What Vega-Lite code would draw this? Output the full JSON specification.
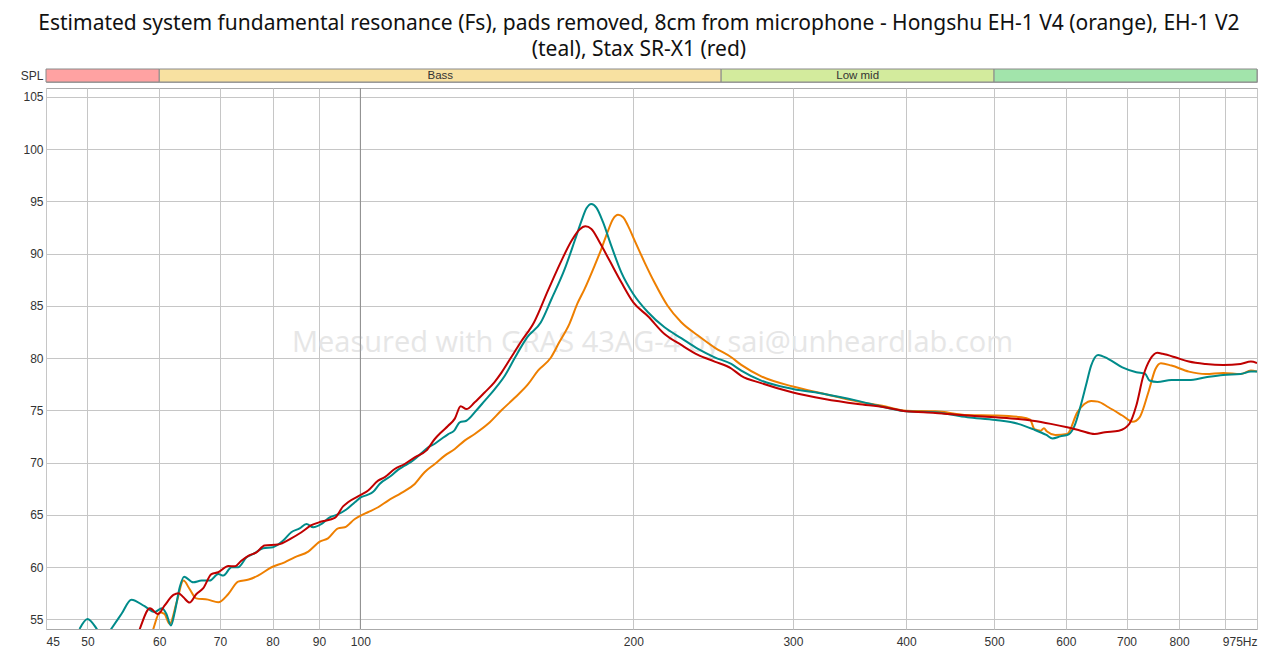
{
  "$schema": "https://vega.github.io/schema/vega-lite/v6.json",
  "padding": {"left": 19, "top": 13, "right": 0, "bottom": 3},
  "background": "white",
  "title": {
    "text": ["Estimated system fundamental resonance (Fs), pads removed, 8cm from microphone - Hongshu EH-1 V4 (orange), EH-1 V2", "(teal), Stax SR-X1 (red)"],
    "anchor": "middle",
    "fontSize": 21,
    "font": "Noto Sans",
    "fontWeight": "normal",
    "color": "#111",
    "lineHeight": 26,
    "offset": 8
  },
  "datasets": {
    "bands": [
      {"lab": "SPL", "b0": 45, "b1": 60, "band": "Sub bass", "name": "", "mid": 52},
      {"lab": "SPL", "b0": 60, "b1": 250, "band": "Bass", "name": "Bass", "mid": 122.5},
      {"lab": "SPL", "b0": 250, "b1": 500, "band": "Low mid", "name": "Low mid", "mid": 353.6},
      {"lab": "SPL", "b0": 500, "b1": 975, "band": "Upper mid", "name": "", "mid": 700}
    ],
    "curves": [
      {"s": "orange", "f": 58.6, "db": 53.0},
      {"s": "orange", "f": 59.1, "db": 54.07},
      {"s": "orange", "f": 60.1, "db": 55.67},
      {"s": "orange", "f": 60.8, "db": 55.5},
      {"s": "orange", "f": 61.6, "db": 54.55},
      {"s": "orange", "f": 62.7, "db": 56.6},
      {"s": "orange", "f": 63.8, "db": 58.7},
      {"s": "orange", "f": 64.8, "db": 57.9},
      {"s": "orange", "f": 65.9, "db": 57.0},
      {"s": "orange", "f": 67.9, "db": 56.88},
      {"s": "orange", "f": 69.7, "db": 56.63},
      {"s": "orange", "f": 71.5, "db": 57.42},
      {"s": "orange", "f": 73.3, "db": 58.6},
      {"s": "orange", "f": 75.3, "db": 58.8},
      {"s": "orange", "f": 77.1, "db": 59.18},
      {"s": "orange", "f": 79.8, "db": 59.98},
      {"s": "orange", "f": 82.5, "db": 60.45},
      {"s": "orange", "f": 84.6, "db": 60.93},
      {"s": "orange", "f": 87.6, "db": 61.48},
      {"s": "orange", "f": 90.2, "db": 62.43},
      {"s": "orange", "f": 92.1, "db": 62.75},
      {"s": "orange", "f": 94.5, "db": 63.7},
      {"s": "orange", "f": 96.1, "db": 63.8},
      {"s": "orange", "f": 98.6, "db": 64.6},
      {"s": "orange", "f": 100.1, "db": 64.92},
      {"s": "orange", "f": 101.9, "db": 65.24},
      {"s": "orange", "f": 104.6, "db": 65.72},
      {"s": "orange", "f": 107.3, "db": 66.36},
      {"s": "orange", "f": 111.0, "db": 67.09},
      {"s": "orange", "f": 114.8, "db": 67.95},
      {"s": "orange", "f": 117.7, "db": 69.07},
      {"s": "orange", "f": 120.8, "db": 69.86},
      {"s": "orange", "f": 123.9, "db": 70.66},
      {"s": "orange", "f": 127.1, "db": 71.3},
      {"s": "orange", "f": 130.3, "db": 72.1},
      {"s": "orange", "f": 133.7, "db": 72.73},
      {"s": "orange", "f": 138.3, "db": 73.7},
      {"s": "orange", "f": 143.1, "db": 75.0},
      {"s": "orange", "f": 148.0, "db": 76.2},
      {"s": "orange", "f": 153.1, "db": 77.5},
      {"s": "orange", "f": 157.0, "db": 78.8},
      {"s": "orange", "f": 162.1, "db": 80.0},
      {"s": "orange", "f": 165.7, "db": 81.5},
      {"s": "orange", "f": 170.1, "db": 83.3},
      {"s": "orange", "f": 173.5, "db": 85.2},
      {"s": "orange", "f": 176.7, "db": 86.6},
      {"s": "orange", "f": 181.3, "db": 88.85},
      {"s": "orange", "f": 184.4, "db": 90.43},
      {"s": "orange", "f": 187.6, "db": 92.2},
      {"s": "orange", "f": 190.0, "db": 93.3},
      {"s": "orange", "f": 192.4, "db": 93.7},
      {"s": "orange", "f": 194.9, "db": 93.47},
      {"s": "orange", "f": 197.3, "db": 92.67},
      {"s": "orange", "f": 200.7, "db": 91.24},
      {"s": "orange", "f": 205.8, "db": 89.16},
      {"s": "orange", "f": 211.0, "db": 87.25},
      {"s": "orange", "f": 218.2, "db": 85.0},
      {"s": "orange", "f": 225.9, "db": 83.42},
      {"s": "orange", "f": 235.7, "db": 82.15},
      {"s": "orange", "f": 245.9, "db": 81.0},
      {"s": "orange", "f": 256.5, "db": 80.07},
      {"s": "orange", "f": 263.1, "db": 79.34},
      {"s": "orange", "f": 276.8, "db": 78.25},
      {"s": "orange", "f": 300, "db": 77.27},
      {"s": "orange", "f": 325.1, "db": 76.56},
      {"s": "orange", "f": 353.8, "db": 75.83},
      {"s": "orange", "f": 378.6, "db": 75.38},
      {"s": "orange", "f": 400, "db": 74.95},
      {"s": "orange", "f": 430.6, "db": 74.9},
      {"s": "orange", "f": 467.3, "db": 74.55},
      {"s": "orange", "f": 502, "db": 74.5},
      {"s": "orange", "f": 536, "db": 74.33},
      {"s": "orange", "f": 548, "db": 74.1},
      {"s": "orange", "f": 554, "db": 73.2},
      {"s": "orange", "f": 563, "db": 73.05},
      {"s": "orange", "f": 567.5, "db": 73.28},
      {"s": "orange", "f": 572, "db": 72.96},
      {"s": "orange", "f": 584, "db": 72.64},
      {"s": "orange", "f": 602, "db": 72.73},
      {"s": "orange", "f": 617.7, "db": 74.8},
      {"s": "orange", "f": 628.9, "db": 75.6},
      {"s": "orange", "f": 639.8, "db": 75.9},
      {"s": "orange", "f": 651, "db": 75.83},
      {"s": "orange", "f": 668.6, "db": 75.29},
      {"s": "orange", "f": 692.6, "db": 74.5},
      {"s": "orange", "f": 711, "db": 73.9},
      {"s": "orange", "f": 723.6, "db": 74.33},
      {"s": "orange", "f": 739.8, "db": 76.7},
      {"s": "orange", "f": 753.4, "db": 78.95},
      {"s": "orange", "f": 763.8, "db": 79.5},
      {"s": "orange", "f": 784.5, "db": 79.28},
      {"s": "orange", "f": 820, "db": 78.7},
      {"s": "orange", "f": 856, "db": 78.47},
      {"s": "orange", "f": 895, "db": 78.57},
      {"s": "orange", "f": 935, "db": 78.47},
      {"s": "orange", "f": 960, "db": 78.8},
      {"s": "orange", "f": 975, "db": 78.7},

      {"s": "teal", "f": 49.0, "db": 54.07},
      {"s": "teal", "f": 50.0, "db": 55.03},
      {"s": "teal", "f": 51.2, "db": 54.07},
      {"s": "teal", "f": 52.1, "db": 53.0},
      {"s": "teal", "f": 53.1, "db": 54.07},
      {"s": "teal", "f": 54.5, "db": 55.5},
      {"s": "teal", "f": 55.9, "db": 56.88},
      {"s": "teal", "f": 57.8, "db": 56.25},
      {"s": "teal", "f": 59.3, "db": 55.7},
      {"s": "teal", "f": 60.4, "db": 56.05},
      {"s": "teal", "f": 61.1, "db": 55.5},
      {"s": "teal", "f": 61.8, "db": 54.4},
      {"s": "teal", "f": 62.4, "db": 55.67},
      {"s": "teal", "f": 63.2, "db": 58.06},
      {"s": "teal", "f": 63.9, "db": 59.08},
      {"s": "teal", "f": 65.4, "db": 58.54},
      {"s": "teal", "f": 66.8, "db": 58.7},
      {"s": "teal", "f": 68.2, "db": 58.7},
      {"s": "teal", "f": 69.7, "db": 59.33},
      {"s": "teal", "f": 70.6, "db": 59.18},
      {"s": "teal", "f": 72.1, "db": 59.98},
      {"s": "teal", "f": 73.3, "db": 59.98},
      {"s": "teal", "f": 74.9, "db": 60.93},
      {"s": "teal", "f": 76.2, "db": 61.25},
      {"s": "teal", "f": 78.1, "db": 61.8},
      {"s": "teal", "f": 80.1, "db": 61.9},
      {"s": "teal", "f": 82.2, "db": 62.53},
      {"s": "teal", "f": 83.9, "db": 63.33},
      {"s": "teal", "f": 85.7, "db": 63.7},
      {"s": "teal", "f": 87.2, "db": 64.12},
      {"s": "teal", "f": 88.7, "db": 63.8},
      {"s": "teal", "f": 90.6, "db": 64.12},
      {"s": "teal", "f": 92.5, "db": 64.76},
      {"s": "teal", "f": 94.1, "db": 64.98},
      {"s": "teal", "f": 96.5, "db": 65.5},
      {"s": "teal", "f": 98.6, "db": 66.2},
      {"s": "teal", "f": 100.1, "db": 66.67},
      {"s": "teal", "f": 101.8, "db": 66.9},
      {"s": "teal", "f": 103.3, "db": 67.2},
      {"s": "teal", "f": 105.0, "db": 67.95},
      {"s": "teal", "f": 108.2, "db": 68.75},
      {"s": "teal", "f": 110.0, "db": 69.3},
      {"s": "teal", "f": 111.9, "db": 69.7},
      {"s": "teal", "f": 114.3, "db": 70.2},
      {"s": "teal", "f": 116.8, "db": 70.9},
      {"s": "teal", "f": 118.8, "db": 71.46},
      {"s": "teal", "f": 120.8, "db": 71.8},
      {"s": "teal", "f": 122.8, "db": 72.25},
      {"s": "teal", "f": 124.9, "db": 72.7},
      {"s": "teal", "f": 126.9, "db": 73.05},
      {"s": "teal", "f": 128.7, "db": 73.85},
      {"s": "teal", "f": 130.9, "db": 74.0},
      {"s": "teal", "f": 134.3, "db": 75.0},
      {"s": "teal", "f": 137.1, "db": 75.9},
      {"s": "teal", "f": 140.6, "db": 77.0},
      {"s": "teal", "f": 144.3, "db": 78.3},
      {"s": "teal", "f": 148.0, "db": 80.0},
      {"s": "teal", "f": 152.8, "db": 82.0},
      {"s": "teal", "f": 158.1, "db": 83.4},
      {"s": "teal", "f": 162.4, "db": 85.6},
      {"s": "teal", "f": 168.0, "db": 88.5},
      {"s": "teal", "f": 172.3, "db": 91.2},
      {"s": "teal", "f": 175.3, "db": 93.1},
      {"s": "teal", "f": 177.5, "db": 94.3},
      {"s": "teal", "f": 179.8, "db": 94.75},
      {"s": "teal", "f": 182.1, "db": 94.4},
      {"s": "teal", "f": 185.2, "db": 93.0},
      {"s": "teal", "f": 189.1, "db": 90.76},
      {"s": "teal", "f": 194.0, "db": 88.2},
      {"s": "teal", "f": 200.0, "db": 86.13},
      {"s": "teal", "f": 207.6, "db": 84.38},
      {"s": "teal", "f": 216.5, "db": 82.94},
      {"s": "teal", "f": 225.9, "db": 81.9},
      {"s": "teal", "f": 235.7, "db": 80.87},
      {"s": "teal", "f": 245.9, "db": 80.07},
      {"s": "teal", "f": 256.5, "db": 79.43},
      {"s": "teal", "f": 263.1, "db": 78.8},
      {"s": "teal", "f": 276.8, "db": 77.84},
      {"s": "teal", "f": 300, "db": 77.04},
      {"s": "teal", "f": 325.1, "db": 76.56},
      {"s": "teal", "f": 353.8, "db": 75.9},
      {"s": "teal", "f": 378.6, "db": 75.29},
      {"s": "teal", "f": 400, "db": 74.9},
      {"s": "teal", "f": 430.6, "db": 74.8},
      {"s": "teal", "f": 467.3, "db": 74.33},
      {"s": "teal", "f": 502, "db": 74.07},
      {"s": "teal", "f": 531.6, "db": 73.7},
      {"s": "teal", "f": 551.6, "db": 73.2},
      {"s": "teal", "f": 571, "db": 72.64},
      {"s": "teal", "f": 580, "db": 72.3},
      {"s": "teal", "f": 591.6, "db": 72.5},
      {"s": "teal", "f": 604.4, "db": 72.7},
      {"s": "teal", "f": 613.3, "db": 73.5},
      {"s": "teal", "f": 623.1, "db": 75.45},
      {"s": "teal", "f": 631.4, "db": 77.36},
      {"s": "teal", "f": 639.8, "db": 79.28},
      {"s": "teal", "f": 651.2, "db": 80.3},
      {"s": "teal", "f": 668.6, "db": 79.9},
      {"s": "teal", "f": 692.6, "db": 79.1},
      {"s": "teal", "f": 717.6, "db": 78.64},
      {"s": "teal", "f": 733.8, "db": 78.5},
      {"s": "teal", "f": 742, "db": 77.85},
      {"s": "teal", "f": 757, "db": 77.7},
      {"s": "teal", "f": 784.5, "db": 77.9},
      {"s": "teal", "f": 819.8, "db": 77.9},
      {"s": "teal", "f": 856.4, "db": 78.16},
      {"s": "teal", "f": 894.8, "db": 78.38},
      {"s": "teal", "f": 935, "db": 78.47},
      {"s": "teal", "f": 960, "db": 78.7},
      {"s": "teal", "f": 975, "db": 78.7},

      {"s": "red", "f": 56.5, "db": 53.0},
      {"s": "red", "f": 57.1, "db": 54.07},
      {"s": "red", "f": 58.6, "db": 56.05},
      {"s": "red", "f": 59.8, "db": 55.5},
      {"s": "red", "f": 60.8, "db": 56.3},
      {"s": "red", "f": 62.2, "db": 57.33},
      {"s": "red", "f": 63.0, "db": 57.5},
      {"s": "red", "f": 63.8, "db": 57.1},
      {"s": "red", "f": 64.8, "db": 56.6},
      {"s": "red", "f": 65.9, "db": 57.4},
      {"s": "red", "f": 67.1, "db": 57.97},
      {"s": "red", "f": 68.5, "db": 59.33},
      {"s": "red", "f": 69.7, "db": 59.5},
      {"s": "red", "f": 71.5, "db": 60.1},
      {"s": "red", "f": 72.7, "db": 60.07},
      {"s": "red", "f": 73.9, "db": 60.6},
      {"s": "red", "f": 75.3, "db": 61.1},
      {"s": "red", "f": 76.8, "db": 61.4},
      {"s": "red", "f": 78.4, "db": 62.05},
      {"s": "red", "f": 81.1, "db": 62.15},
      {"s": "red", "f": 83.9, "db": 62.75},
      {"s": "red", "f": 86.1, "db": 63.33},
      {"s": "red", "f": 88.3, "db": 64.0},
      {"s": "red", "f": 90.6, "db": 64.35},
      {"s": "red", "f": 93.7, "db": 64.7},
      {"s": "red", "f": 95.7, "db": 65.8},
      {"s": "red", "f": 96.9, "db": 66.2},
      {"s": "red", "f": 100.1, "db": 66.9},
      {"s": "red", "f": 101.9, "db": 67.3},
      {"s": "red", "f": 104.6, "db": 68.27},
      {"s": "red", "f": 106.4, "db": 68.6},
      {"s": "red", "f": 109.1, "db": 69.38},
      {"s": "red", "f": 111.9, "db": 69.86},
      {"s": "red", "f": 114.8, "db": 70.5},
      {"s": "red", "f": 118.2, "db": 71.14},
      {"s": "red", "f": 120.8, "db": 72.25},
      {"s": "red", "f": 122.8, "db": 72.9},
      {"s": "red", "f": 124.9, "db": 73.5},
      {"s": "red", "f": 127.1, "db": 74.2},
      {"s": "red", "f": 129.0, "db": 75.38},
      {"s": "red", "f": 130.9, "db": 75.12},
      {"s": "red", "f": 133.7, "db": 75.76},
      {"s": "red", "f": 137.1, "db": 76.7},
      {"s": "red", "f": 140.6, "db": 77.7},
      {"s": "red", "f": 143.1, "db": 78.6},
      {"s": "red", "f": 146.5, "db": 80.0},
      {"s": "red", "f": 150.5, "db": 81.6},
      {"s": "red", "f": 155.4, "db": 83.4},
      {"s": "red", "f": 161.1, "db": 86.5},
      {"s": "red", "f": 166.6, "db": 89.3},
      {"s": "red", "f": 170.9, "db": 91.2},
      {"s": "red", "f": 174.5, "db": 92.3},
      {"s": "red", "f": 177.1, "db": 92.6},
      {"s": "red", "f": 179.8, "db": 92.35},
      {"s": "red", "f": 183.6, "db": 91.08},
      {"s": "red", "f": 188.3, "db": 89.33},
      {"s": "red", "f": 194.0, "db": 87.25},
      {"s": "red", "f": 200.0, "db": 85.33},
      {"s": "red", "f": 207.6, "db": 84.0},
      {"s": "red", "f": 216.5, "db": 82.3},
      {"s": "red", "f": 225.9, "db": 81.25},
      {"s": "red", "f": 235.7, "db": 80.3},
      {"s": "red", "f": 245.9, "db": 79.66},
      {"s": "red", "f": 256.5, "db": 79.0},
      {"s": "red", "f": 263.1, "db": 78.3},
      {"s": "red", "f": 276.8, "db": 77.6},
      {"s": "red", "f": 300, "db": 76.7},
      {"s": "red", "f": 325.1, "db": 76.08},
      {"s": "red", "f": 353.8, "db": 75.6},
      {"s": "red", "f": 378.6, "db": 75.29},
      {"s": "red", "f": 400, "db": 74.9},
      {"s": "red", "f": 430.6, "db": 74.75},
      {"s": "red", "f": 467.3, "db": 74.5},
      {"s": "red", "f": 502, "db": 74.33},
      {"s": "red", "f": 531.6, "db": 74.17},
      {"s": "red", "f": 551.6, "db": 74.0},
      {"s": "red", "f": 577.5, "db": 73.7},
      {"s": "red", "f": 602, "db": 73.37},
      {"s": "red", "f": 623, "db": 73.05},
      {"s": "red", "f": 645.5, "db": 72.73},
      {"s": "red", "f": 662.6, "db": 72.9},
      {"s": "red", "f": 686.5, "db": 73.05},
      {"s": "red", "f": 705, "db": 73.7},
      {"s": "red", "f": 717.6, "db": 75.45},
      {"s": "red", "f": 730.5, "db": 78.3},
      {"s": "red", "f": 743.6, "db": 79.9},
      {"s": "red", "f": 757, "db": 80.5},
      {"s": "red", "f": 767.2, "db": 80.4},
      {"s": "red", "f": 792, "db": 80.07},
      {"s": "red", "f": 820, "db": 79.66},
      {"s": "red", "f": 856, "db": 79.43},
      {"s": "red", "f": 895, "db": 79.34},
      {"s": "red", "f": 935, "db": 79.43},
      {"s": "red", "f": 960, "db": 79.66},
      {"s": "red", "f": 975, "db": 79.53}
    ],
    "marks": [
      {"f": 210, "db": 81.4, "note": "Measured with GRAS 43AG-4 by sai@unheardlab.com"}
    ],
    "refline": [
      {"f": 100}
    ]
  },
  "spacing": 4,
  "resolve": {"scale": {"color": "independent"}},
  "vconcat": [
    {
      "width": 1211,
      "height": 13,
      "data": {"name": "bands"},
      "layer": [
        {
          "mark": {"type": "rect", "stroke": "#8a8a8a", "strokeWidth": 1},
          "encoding": {
            "x": {"field": "b0", "type": "quantitative", "scale": {"type": "log", "domain": [45, 975], "nice": false}, "axis": null},
            "x2": {"field": "b1"},
            "y": {"field": "lab", "type": "nominal", "scale": {"paddingInner": 0, "paddingOuter": 0},
              "axis": {"title": null, "ticks": false, "domain": false, "labelFont": "Liberation Sans", "labelFontSize": 12, "labelColor": "#333", "labelPadding": 3}},
            "color": {"field": "band", "type": "nominal", "legend": null,
              "scale": {"domain": ["Sub bass", "Bass", "Low mid", "Upper mid"], "range": ["#ffa2a2", "#f8e1a1", "#d3eb9d", "#a2e4ab"]}}
          }
        },
        {
          "mark": {"type": "text", "font": "Liberation Sans", "fontSize": 11.5, "color": "#333", "baseline": "middle"},
          "encoding": {
            "x": {"field": "mid", "type": "quantitative", "scale": {"type": "log", "domain": [45, 975], "nice": false}},
            "y": {"field": "lab", "type": "nominal"},
            "text": {"field": "name"}
          }
        }
      ]
    },
    {
      "width": 1211,
      "height": 541,
      "layer": [
        {
          "data": {"name": "marks"},
          "mark": {"type": "text", "font": "Open Sans", "fontSize": 29, "color": "#e6e6e6", "baseline": "middle", "align": "center"},
          "encoding": {
            "x": {"field": "f", "type": "quantitative",
              "scale": {"type": "log", "domain": [45, 975], "nice": false},
              "axis": {
                "title": null,
                "values": [45, 50, 60, 70, 80, 90, 100, 200, 300, 400, 500, 600, 700, 800, 900, 975],
                "labelExpr": "datum.value == 900 ? '' : datum.value == 975 ? '975Hz' : datum.label",
                "format": "d",
                "grid": true,
                "gridColor": "#c6c6c6",
                "ticks": false,
                "domain": false,
                "labelOverlap": false,
                "labelFont": "Liberation Sans",
                "labelFontSize": 12,
                "labelColor": "#333",
                "labelPadding": 7
              }},
            "y": {"field": "db", "type": "quantitative",
              "scale": {"domain": [54.07, 105.84], "nice": false, "zero": false},
              "axis": {
                "title": null,
                "values": [55, 60, 65, 70, 75, 80, 85, 90, 95, 100, 105],
                "grid": true,
                "gridColor": "#c6c6c6",
                "ticks": false,
                "domain": false,
                "labelFont": "Liberation Sans",
                "labelFontSize": 12,
                "labelColor": "#333",
                "labelPadding": 3
              }},
            "text": {"field": "note"}
          }
        },
        {
          "data": {"name": "refline"},
          "mark": {"type": "rule", "color": "#8c8c8c", "strokeWidth": 1},
          "encoding": {
            "x": {"field": "f", "type": "quantitative"}
          }
        },
        {
          "data": {"name": "curves"},
          "mark": {"type": "line", "interpolate": "monotone", "strokeWidth": 2, "clip": true},
          "encoding": {
            "x": {"field": "f", "type": "quantitative"},
            "y": {"field": "db", "type": "quantitative"},
            "color": {"field": "s", "type": "nominal", "legend": null,
              "scale": {"domain": ["orange", "teal", "red"], "range": ["#ee7f00", "#008b8a", "#bf0000"]}},
            "order": {"field": "f", "type": "quantitative"}
          }
        }
      ]
    }
  ],
  "config": {
    "view": {"stroke": "#aaaaaa"},
    "font": "Liberation Sans"
  }
}
